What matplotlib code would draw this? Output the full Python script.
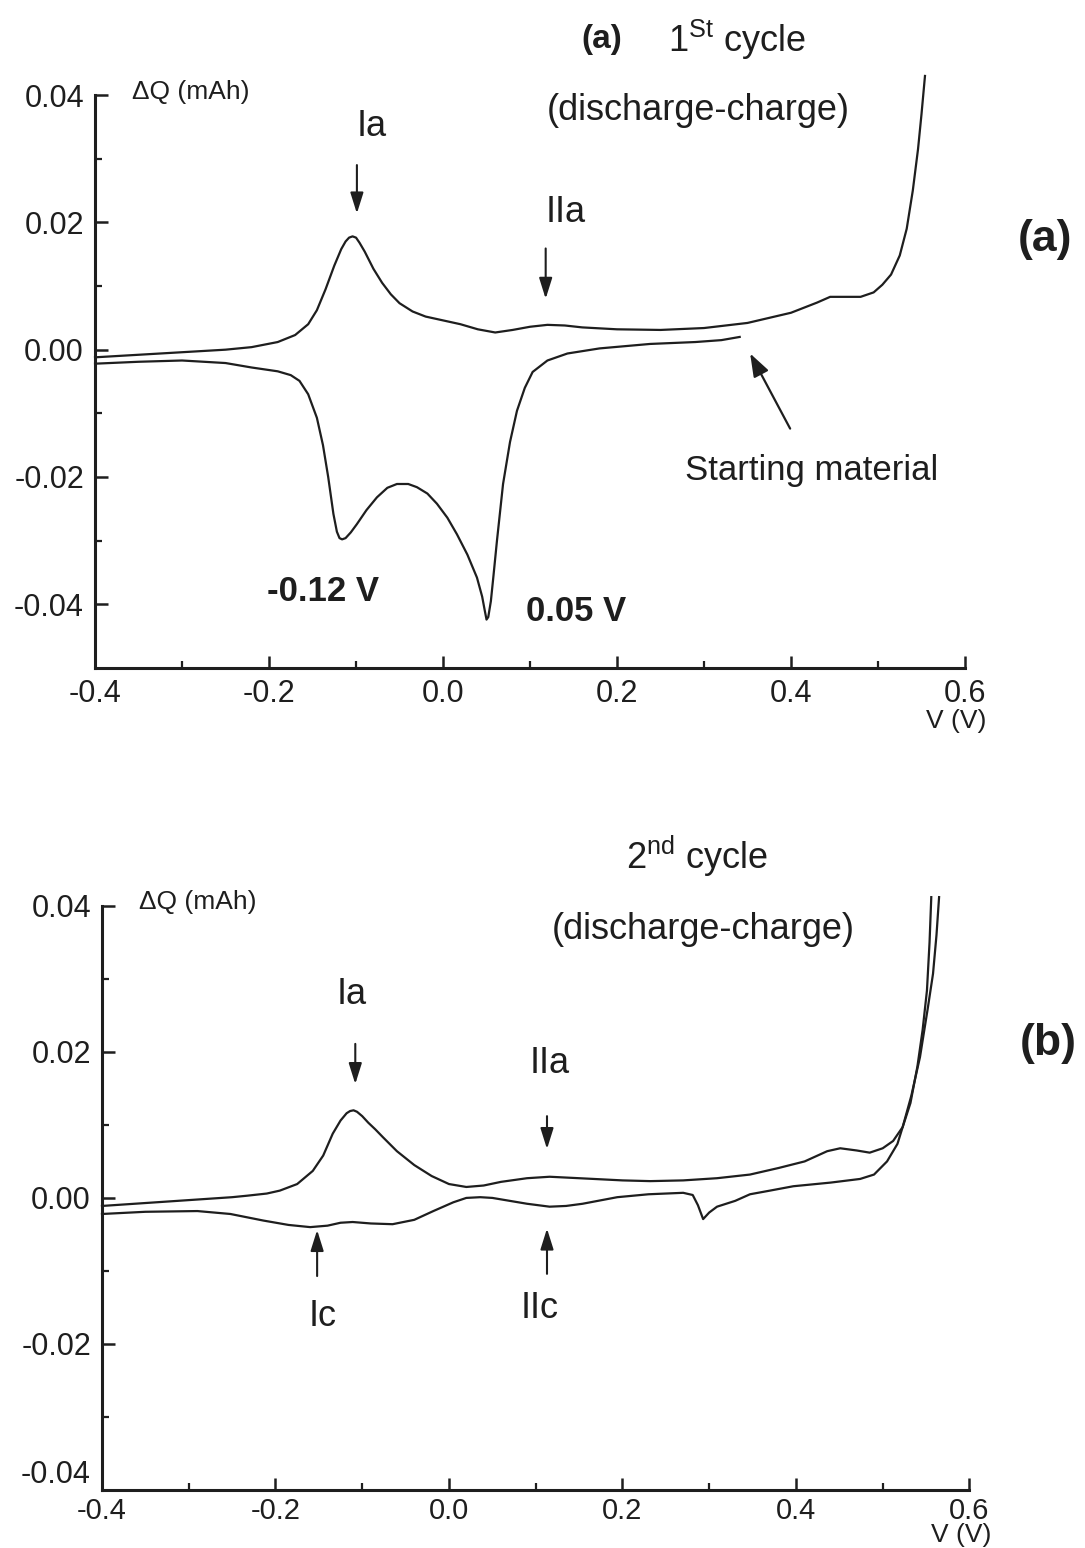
import numpy as np
import matplotlib.pyplot as plt

plt.rcParams['font.family'] = ['Liberation Sans', 'DejaVu Sans']
plt.rcParams['mathtext.fontset'] = 'custom'
plt.rcParams['mathtext.rm'] = 'Liberation Sans'
plt.rcParams['axes.unicode_minus'] = False

# ---- datos ----
# (a) primer ciclo, carga (curva superior)
v1_carga = [-0.40, -0.35, -0.30, -0.25, -0.22, -0.19, -0.17, -0.155, -0.145, -0.135,
            -0.125, -0.117, -0.112, -0.108, -0.104, -0.100, -0.096, -0.09, -0.08, -0.07,
            -0.06, -0.05, -0.035, -0.02, 0.0, 0.02, 0.04, 0.06, 0.08, 0.10,
            0.12, 0.14, 0.16, 0.20, 0.25, 0.30, 0.35, 0.40, 0.43, 0.445,
            0.46, 0.48, 0.495, 0.505, 0.515, 0.525, 0.533, 0.540, 0.546, 0.550, 0.554]
q1_carga = [-0.0012, -0.0008, -0.0004, 0.0000, 0.0004, 0.0012, 0.0023, 0.0040, 0.0062, 0.0095,
            0.0132, 0.0158, 0.0170, 0.0176, 0.0178, 0.0176, 0.0168, 0.0154, 0.0127, 0.0105,
            0.0087, 0.0073, 0.0060, 0.0052, 0.0046, 0.0040, 0.0032, 0.0027, 0.0031, 0.0036,
            0.0039, 0.0038, 0.0035, 0.0032, 0.0031, 0.0034, 0.0042, 0.0058, 0.0074, 0.0083,
            0.0083, 0.0083, 0.0090, 0.0102, 0.0118, 0.0148, 0.0190, 0.0250, 0.0315, 0.0370, 0.0430]

# (a) primer ciclo, descarga (curva inferior)
v1_desc = [-0.40, -0.35, -0.30, -0.25, -0.22, -0.19, -0.175, -0.165, -0.155, -0.145,
           -0.138, -0.132, -0.126, -0.122, -0.119, -0.116, -0.112, -0.106, -0.099, -0.088,
           -0.076, -0.064, -0.053, -0.040, -0.030, -0.018, -0.007, 0.005, 0.016, 0.028,
           0.039, 0.045, 0.048, 0.050, 0.052, 0.055, 0.058, 0.062, 0.069, 0.077,
           0.085, 0.094, 0.103, 0.12, 0.143, 0.18, 0.238, 0.29, 0.32, 0.341]
q1_desc = [-0.0022, -0.0019, -0.0017, -0.0021, -0.0028, -0.0034, -0.0040, -0.0049, -0.0070, -0.0107,
           -0.0150, -0.0200, -0.0258, -0.0286, -0.0296, -0.0298, -0.0296, -0.0287, -0.0274, -0.0252,
           -0.0232, -0.0217, -0.0211, -0.0211, -0.0216, -0.0226, -0.0242, -0.0264, -0.0290, -0.0322,
           -0.0358, -0.0388, -0.0410, -0.0424, -0.0420, -0.0395, -0.0355, -0.0300, -0.0211, -0.0145,
           -0.0096, -0.0060, -0.0035, -0.0017, -0.0006, 0.0002, 0.0009, 0.0012, 0.0015, 0.0020]

# (b) segundo ciclo, carga
v2_carga = [-0.40, -0.35, -0.30, -0.25, -0.233, -0.21, -0.195, -0.175, -0.157, -0.145,
            -0.134, -0.125, -0.118, -0.114, -0.110, -0.106, -0.100, -0.093, -0.085, -0.076,
            -0.06, -0.04, -0.02, 0.0, 0.02, 0.04, 0.06, 0.09, 0.116, 0.15,
            0.20, 0.232, 0.27, 0.309, 0.347, 0.38, 0.41, 0.436, 0.451, 0.47,
            0.485, 0.50, 0.512, 0.523, 0.532, 0.540, 0.546, 0.551, 0.554, 0.556]
q2_carga = [-0.0011, -0.0007, -0.0003, 0.0001, 0.0003, 0.0006, 0.0010, 0.0019, 0.0037, 0.0058,
            0.0088, 0.0106, 0.0116, 0.0119, 0.0120, 0.0118, 0.0112, 0.0103, 0.0094, 0.0083,
            0.0064, 0.0045, 0.0030, 0.0019, 0.0015, 0.0017, 0.0022, 0.0027, 0.0029, 0.0027,
            0.0024, 0.0023, 0.0024, 0.0027, 0.0032, 0.0041, 0.0050, 0.0064, 0.0068, 0.0065,
            0.0062, 0.0068, 0.0078, 0.0097, 0.0130, 0.0180, 0.0230, 0.0284, 0.0350, 0.0412]

# (b) segundo ciclo, descarga
v2_desc = [-0.40, -0.35, -0.29, -0.252, -0.214, -0.185, -0.160, -0.14, -0.125, -0.111,
           -0.09, -0.065, -0.04, -0.018, 0.005, 0.02, 0.036, 0.05, 0.065, 0.09,
           0.116, 0.135, 0.154, 0.194, 0.23, 0.270, 0.281, 0.287, 0.293, 0.300,
           0.309, 0.33, 0.347, 0.37, 0.397, 0.44, 0.474, 0.490, 0.505, 0.517,
           0.523, 0.533, 0.543, 0.552, 0.558, 0.562, 0.565]
q2_desc = [-0.0022, -0.0019, -0.0018, -0.0022, -0.0031, -0.0037, -0.0040, -0.0038, -0.0034, -0.0033,
           -0.0035, -0.0036, -0.0030, -0.0018, -0.0006, 0.0000, 0.0001, 0.0000, -0.0003, -0.0008,
           -0.0012, -0.0011, -0.0008, 0.0001, 0.0005, 0.0007, 0.0004, -0.0010, -0.0029, -0.0020,
           -0.0012, -0.0004, 0.0005, 0.0010, 0.0016, 0.0021, 0.0026, 0.0032, 0.0050, 0.0074,
           0.0097, 0.0140, 0.0193, 0.0260, 0.0307, 0.0360, 0.0412]

xticks = [-0.4, -0.2, 0.0, 0.2, 0.4, 0.6]
xtick_labels = ['-0.4', '-0.2', '0.0', '0.2', '0.4', '0.6']
yticks = [-0.04, -0.02, 0.00, 0.02, 0.04]
ytick_labels = ['-0.04', '-0.02', '0.00', '0.02', '0.04']

tinta = '#1e1e1e'


def ejes(ax, ymin, y_vv, xpad, xsize):
    ax.set_xlim(-0.4, 0.6)
    ax.set_ylim(ymin, 0.04)
    ax.spines['top'].set_visible(False)
    ax.spines['right'].set_visible(False)
    for s in ('left', 'bottom'):
        ax.spines[s].set_linewidth(2.2)
        ax.spines[s].set_color(tinta)
    ax.set_xticks(xticks)
    ax.set_xticklabels(xtick_labels)
    ax.set_xticks(np.arange(-0.3, 0.6, 0.2), minor=True)
    ax.set_yticks(yticks)
    ax.set_yticklabels(ytick_labels)
    ax.set_yticks(np.arange(-0.03, 0.04, 0.02), minor=True)
    ax.tick_params(which='major', direction='in', length=9, width=1.8, labelsize=22,
                   pad=8, colors=tinta)
    ax.tick_params(axis='x', which='major', pad=xpad, labelsize=xsize)
    ax.tick_params(which='minor', direction='in', length=5, width=1.6, colors=tinta)
    ax.text(-0.29, 0.0405, u'\u0394Q (mAh)', fontsize=19, color=tinta, ha='center', va='center')
    ax.text(0.59, y_vv, 'V (V)', fontsize=19, color=tinta, ha='center', va='center',
            clip_on=False)


def flecha(ax, x, y0, y1):
    ax.annotate('', xy=(x, y1), xytext=(x, y0),
                arrowprops=dict(arrowstyle='-|>,head_length=0.7,head_width=0.22',
                                lw=1.5, color=tinta, mutation_scale=18, shrinkA=0, shrinkB=0))


fig = plt.figure(figsize=(10.85, 15.48), dpi=100)
ax1 = fig.add_axes([0.0876, 0.5685, 0.8018, 0.3701])
ax2 = fig.add_axes([0.0940, 0.0375, 0.7995, 0.3773])

# ---- panel (a) ----
ejes(ax1, -0.05, -0.0584, 8, 22)
ax1.plot(v1_carga, q1_carga, color=tinta, lw=1.6, clip_on=False)
ax1.plot(v1_desc, q1_desc, color=tinta, lw=1.6, clip_on=False)

ax1.text(0.259, 0.0487, r'1$^{\mathrm{St}}$ cycle', fontsize=26, color=tinta,
         ha='left', va='center', clip_on=False)
ax1.text(0.183, 0.0487, '(a)', fontsize=24, fontweight='bold', color=tinta,
         ha='center', va='center', clip_on=False)
ax1.text(0.293, 0.0376, '(discharge-charge)', fontsize=26, color=tinta, ha='center', va='center')
ax1.text(-0.082, 0.035, 'Ia', fontsize=26, color=tinta, ha='center', va='center')
flecha(ax1, -0.099, 0.029, 0.0214)
ax1.text(0.141, 0.0216, 'IIa', fontsize=26, color=tinta, ha='center', va='center')
flecha(ax1, 0.118, 0.0159, 0.008)
ax1.text(-0.138, -0.038, '-0.12 V', fontsize=25, fontweight='bold', color=tinta,
         ha='center', va='center')
ax1.text(0.153, -0.0411, '0.05 V', fontsize=25, fontweight='bold', color=tinta,
         ha='center', va='center')
ax1.text(0.424, -0.019, 'Starting material', fontsize=25, color=tinta, ha='center', va='center')
ax1.annotate('', xy=(0.353, -0.0006), xytext=(0.399, -0.0124),
             arrowprops=dict(arrowstyle='-|>,head_length=0.7,head_width=0.25',
                             lw=1.6, color=tinta, mutation_scale=20, shrinkA=0, shrinkB=0))
fig.text(0.963, 0.845, '(a)', fontsize=32, fontweight='bold', color=tinta, ha='center', va='center')

# ---- panel (b) ----
ejes(ax2, -0.04, -0.0462, 5, 21)
# la etiqueta -0.04 queda justo sobre el eje, como en el original
ax2.get_yticklabels()[0].set_va('bottom')
ax2.plot(v2_carga, q2_carga, color=tinta, lw=1.6, clip_on=False)
ax2.plot(v2_desc, q2_desc, color=tinta, lw=1.6, clip_on=False)

ax2.text(0.286, 0.0468, r'2$^{\mathrm{nd}}$ cycle', fontsize=26, color=tinta,
         ha='center', va='center', clip_on=False)
ax2.text(0.293, 0.0368, '(discharge-charge)', fontsize=26, color=tinta, ha='center', va='center')
ax2.text(-0.112, 0.0279, 'Ia', fontsize=26, color=tinta, ha='center', va='center')
flecha(ax2, -0.108, 0.0211, 0.0156)
ax2.text(0.116, 0.0184, 'IIa', fontsize=26, color=tinta, ha='center', va='center')
flecha(ax2, 0.113, 0.0112, 0.0067)
ax2.text(-0.146, -0.0162, 'Ic', fontsize=26, color=tinta, ha='center', va='center')
flecha(ax2, -0.152, -0.0107, -0.0044)
ax2.text(0.105, -0.0152, 'IIc', fontsize=26, color=tinta, ha='center', va='center')
flecha(ax2, 0.113, -0.0104, -0.0042)
fig.text(0.966, 0.326, '(b)', fontsize=32, fontweight='bold', color=tinta, ha='center', va='center')

fig.savefig('out.png', dpi=100)
